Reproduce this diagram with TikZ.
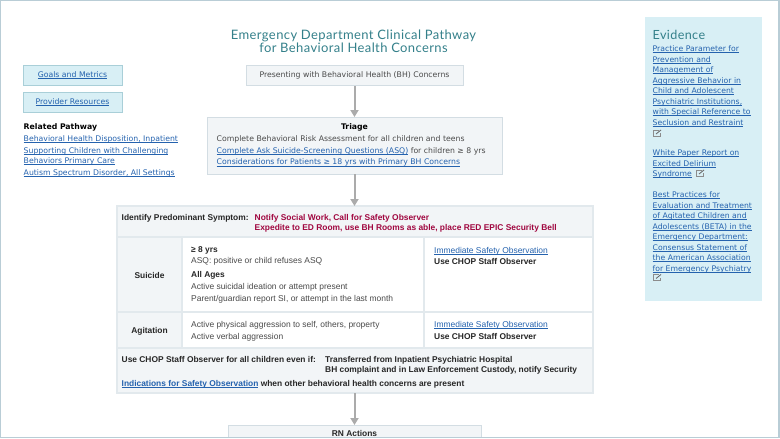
\documentclass[tikz,border=0pt]{standalone}
\usepackage{fontspec}
\setmainfont{DejaVu Sans}
\newfontfamily\arialfont{Liberation Sans}
\newfontfamily\titlefont[LetterSpace=3]{Lato}
\usetikzlibrary{arrows.meta}
\definecolor{linkblue}{HTML}{2462AE}
\definecolor{titleteal}{HTML}{34808A}
\definecolor{alertred}{HTML}{A0063F}
\definecolor{boxfill}{HTML}{F2F5F7}
\definecolor{boxline}{HTML}{D3DDE3}
\definecolor{cellline}{HTML}{E2E9ED}
\definecolor{paleblue}{HTML}{D8EFF5}
\definecolor{paleline}{HTML}{A9CFD8}
\definecolor{bodygray}{HTML}{4A4A4A}
\definecolor{framegray}{HTML}{B9CDD6}
\newsavebox{\lnkbox}
\newcommand{\lnk}[1]{\sbox{\lnkbox}{#1}\textcolor{linkblue}{\rlap{\rule[-1.3pt]{\wd\lnkbox}{.55pt}}#1}}
\tikzset{
	pathbox/.style={draw=boxline, fill=boxfill, line width=1pt, inner sep=0pt, outer sep=0pt},
	navbox/.style={draw=paleline, fill=paleblue, line width=1pt, minimum width=99pt, minimum height=20pt, inner sep=0pt, outer sep=0pt, font=\fontsize{7.75}{10}\selectfont},
	cell/.style={draw=cellline, line width=1.2pt, anchor=north west, inner sep=0pt, outer sep=0pt},
	grayrow/.style={cell, fill=boxfill},
	whiterow/.style={cell, fill=white},
	vtext/.style={anchor=north west, inner sep=0pt, align=left, text=bodygray, font=\fontsize{7.75}{11.7}\selectfont},
	atext/.style={anchor=north west, inner sep=0pt, align=left, text=bodygray, font=\arialfont\fontsize{8.45}{11.7}\selectfont},
	aboldtext/.style={atext, text=black!85, font=\arialfont\bfseries\fontsize{8.4}{10.7}\selectfont},
	evtext/.style={anchor=north west, inner sep=0pt, align=left, font=\fontsize{7.7}{10.5}\selectfont},
	flowarrow/.style={draw=black!33, line width=2pt, -{Triangle[length=7pt, width=8pt]}},
	extlink/.pic={
		\draw[black!45, line width=.6pt] (0,-1) -- (0,-7) -- (6,-7);
		\draw[black!45, line width=.6pt] (0,-1) -- (7,-1) -- (7,-4);
		\draw[black!60, line width=.8pt] (3,-3) -- (8,-7);
	}
}
\begin{document}
\begin{tikzpicture}[x=1pt, y=-1pt]
	\useasboundingbox (0,0) rectangle (780,439);
	% title
	\node[inner sep=0pt, align=center, text=titleteal, font=\titlefont\fontsize{13}{13.5}\selectfont] (title) at (353.5,41.5) {Emergency Department Clinical Pathway\\for Behavioral Health Concerns};
	% left column
	\node[navbox] (goals) at (72.5,75) {\lnk{Goals and Metrics}};
	\node[navbox] (resources) at (72.5,102) {\lnk{Provider Resources}};
	\node[vtext, text=black, font=\bfseries\fontsize{7.75}{10}\selectfont] (related) at (23.5,123) {Related Pathway};
	\node[vtext] (relatedlinks) at (23.5,135) {\lnk{Behavioral Health Disposition, Inpatient}\\[.3pt]\lnk{Supporting Children with Challenging}\\[-1.7pt]\lnk{Behaviors Primary Care}\\[.3pt]\lnk{Autism Spectrum Disorder, All Settings}};
	% flow boxes
	\node[pathbox, minimum width=217pt, minimum height=20.5pt, text=bodygray, font=\fontsize{7.75}{10}\selectfont] (presenting) at (354.5,75.5) {Presenting with Behavioral Health (BH) Concerns};
	\node[pathbox, minimum width=295pt, minimum height=57pt] (triage) at (354.5,145.5) {};
	\node[vtext, text=black, font=\bfseries\fontsize{7.75}{10}\selectfont, anchor=north] (triagehead) at (354.5,123.5) {Triage};
	\node[vtext] (triagetext) at (216.5,135.5) {Complete Behavioral Risk Assessment for all children and teens\\\lnk{Complete Ask Suicide-Screening Questions (ASQ)} for children ≥ 8 yrs\\\lnk{Considerations for Patients ≥ 18 yrs with Primary BH Concerns}};
	% table
	\node[grayrow, minimum width=476pt, minimum height=31pt] (symptomhead) at (117,206) {};
	\node[grayrow, minimum width=65pt, minimum height=75pt] (suicide) at (117,237) {};
	\node[whiterow, minimum width=242pt, minimum height=75pt] (suicideb) at (182,237) {};
	\node[whiterow, minimum width=169pt, minimum height=75pt] (suicidec) at (424,237) {};
	\node[grayrow, minimum width=65pt, minimum height=36pt] (agitation) at (117,312) {};
	\node[whiterow, minimum width=242pt, minimum height=36pt] (agitationb) at (182,312) {};
	\node[whiterow, minimum width=169pt, minimum height=36pt] (agitationc) at (424,312) {};
	\node[grayrow, minimum width=476pt, minimum height=45pt] (staffrow) at (117,348) {};
	\node[aboldtext] (symptomlabel) at (121.5,214) {Identify Predominant Symptom:};
	\node[aboldtext, text=alertred] (symptomalert) at (254.5,214) {Notify Social Work, Call for Safety Observer\\Expedite to ED Room, use BH Rooms as able, place RED EPIC Security Bell};
	\node[aboldtext, anchor=center] (suicidelabel) at (149.5,275.5) {Suicide};
	\node[aboldtext] (ageeight) at (191,246.5) {≥ 8 yrs};
	\node[atext] (asqtext) at (191,257.5) {ASQ: positive or child refuses ASQ};
	\node[aboldtext] (allages) at (191,271) {All Ages};
	\node[atext] (allagestext) at (191,283) {Active suicidal ideation or attempt present\\Parent/guardian report SI, or attempt in the last month};
	\node[atext] (safetya) at (434,247) {\lnk{Immediate Safety Observation}};
	\node[aboldtext] (staffa) at (434,258) {Use CHOP Staff Observer};
	\node[aboldtext, anchor=center] (agitationlabel) at (149.5,331) {Agitation};
	\node[atext] (agitationtext) at (191,321) {Active physical aggression to self, others, property\\Active verbal aggression};
	\node[atext] (safetyb) at (434,321) {\lnk{Immediate Safety Observation}};
	\node[aboldtext] (staffb) at (434,333) {Use CHOP Staff Observer};
	\node[aboldtext] (stafflabel) at (121.5,356) {Use CHOP Staff Observer for all children even if:};
	\node[aboldtext] (stafftext) at (325,356) {Transferred from Inpatient Psychiatric Hospital\\BH complaint and in Law Enforcement Custody, notify Security};
	\node[aboldtext] (indications) at (121.5,380) {\lnk{Indications for Safety Observation} when other behavioral health concerns are present};
	% rn box
	\node[pathbox, minimum width=253pt, minimum height=30pt, anchor=north] (rnbox) at (354.5,425) {};
	\node[aboldtext, anchor=north] (rnhead) at (354.5,430.5) {RN Actions};
	% arrows
	\draw[flowarrow] (presenting) -- (triage);
	\draw[flowarrow] (triage) -- (symptomhead.north -| triage);
	\draw[flowarrow] (staffrow.south -| rnbox) -- (rnbox);
	% evidence
	\node[fill=paleblue, anchor=north west, minimum width=117pt, minimum height=284pt, inner sep=0pt] (evidence) at (645,17) {};
	\node[anchor=north west, inner sep=0pt, text=titleteal, font=\titlefont\fontsize{12.6}{14}\selectfont] (evidencehead) at (652.5,30) {Evidence};
	\node[evtext] (evidencea) at (652.5,45.5) {\lnk{Practice Parameter for}\\\lnk{Prevention and}\\\lnk{Management of}\\\lnk{Aggressive Behavior in}\\\lnk{Child and Adolescent}\\\lnk{Psychiatric Institutions,}\\\lnk{with Special Reference to}\\\lnk{Seclusion and Restraint}};
	\node[evtext] (evidenceb) at (652.5,149.5) {\lnk{White Paper Report on}\\\lnk{Excited Delirium}\\\lnk{Syndrome}};
	\node[evtext] (evidencec) at (652.5,191.5) {\lnk{Best Practices for}\\\lnk{Evaluation and Treatment}\\\lnk{of Agitated Children and}\\\lnk{Adolescents (BETA) in the}\\\lnk{Emergency Department:}\\\lnk{Consensus Statement of}\\\lnk{the American Association}\\\lnk{for Emergency Psychiatry}};
	\pic at (653,137) {extlink};
	\pic at (696,177) {extlink};
	\pic at (653,281.5) {extlink};
	% page frame
	\draw[framegray, line width=1.2pt] (.6,439) -- (.6,.6) -- (779,.6) -- (779,437.8) -- (.6,437.8);
	\fill[white] (0,438.4) rectangle (780,439);
\end{tikzpicture}
\end{document}
